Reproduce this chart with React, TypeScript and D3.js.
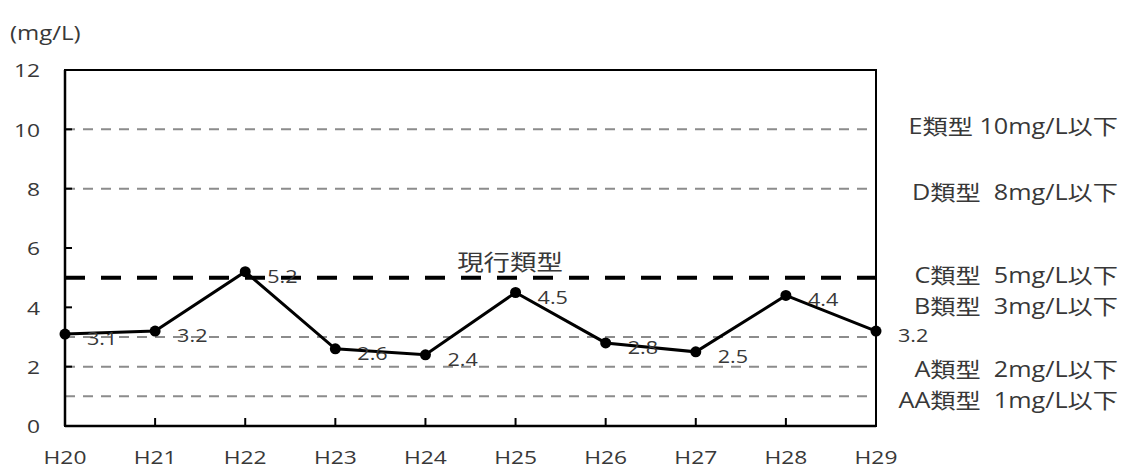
import React, { useEffect, useRef } from "react";
import * as d3 from "d3";

const years = ["H20", "H21", "H22", "H23", "H24", "H25", "H26", "H27", "H28", "H29"];
const values = [3.1, 3.2, 5.2, 2.6, 2.4, 4.5, 2.8, 2.5, 4.4, 3.2];
const yTicks = [0, 2, 4, 6, 8, 10, 12];
const grayLines = [1, 2, 3, 8, 10];
const currentLine = 5;
const currentLabel = "現行類型";
const classTexts = [
  "E類型 10mg/L以下",
  "D類型  8mg/L以下",
  "C類型  5mg/L以下",
  "B類型  3mg/L以下",
  "A類型  2mg/L以下",
  "AA類型  1mg/L以下",
];
const classValues = [10, 8, 5, 3, 2, 1];
const unitLabel = "(mg/L)";

const W = 1127;
const H = 470;
const LEFT = 65;
const RIGHT = 876;
const TOP = 70;
const BOTTOM = 426;
const SX = 1.2;
const FONT = "'Open Sans', 'Noto Sans CJK JP', sans-serif";
const TXT = "#383838";
// vertical nudges (px) for the right-hand class labels
const classNudge = [-3, 3, -3, -31, 2, 4];

export default function App() {
  const ref = useRef<SVGSVGElement>(null);

  useEffect(() => {
    const svg = d3.select(ref.current);
    svg.selectAll("*").remove();

    const x = d3.scalePoint<string>().domain(years).range([LEFT, RIGHT]);
    const y = d3.scaleLinear().domain([0, 12]).range([BOTTOM, TOP]);

    const txt = (
      g: d3.Selection<any, any, any, any>,
      tx: number,
      ty: number,
      s: string,
      size: number,
      anchor: string,
      baseline = "auto"
    ) =>
      g
        .append("text")
        .attr("transform", `translate(${tx},${ty}) scale(${SX},1)`)
        .attr("text-anchor", anchor)
        .attr("dominant-baseline", baseline)
        .attr("font-family", FONT)
        .attr("font-size", size)
        .attr("fill", TXT)
        .style("white-space", "pre")
        .text(s);

    const root = svg.append("g");

    root
      .selectAll("line.gray")
      .data(grayLines)
      .join("line")
      .attr("x1", LEFT)
      .attr("x2", RIGHT)
      .attr("y1", (d) => y(d))
      .attr("y2", (d) => y(d))
      .attr("stroke", "#8c8c8c")
      .attr("stroke-width", 2)
      .attr("stroke-dasharray", "10,8");

    root
      .append("line")
      .attr("x1", LEFT)
      .attr("x2", RIGHT)
      .attr("y1", y(currentLine))
      .attr("y2", y(currentLine))
      .attr("stroke", "#000")
      .attr("stroke-width", 4)
      .attr("stroke-dasharray", "20,16");

    root
      .append("rect")
      .attr("x", LEFT)
      .attr("y", TOP)
      .attr("width", RIGHT - LEFT)
      .attr("height", BOTTOM - TOP)
      .attr("fill", "none")
      .attr("stroke", "#000")
      .attr("stroke-width", 2);
    root
      .append("line")
      .attr("x1", LEFT)
      .attr("x2", RIGHT)
      .attr("y1", BOTTOM)
      .attr("y2", BOTTOM)
      .attr("stroke", "#000")
      .attr("stroke-width", 2.5);
    root
      .append("line")
      .attr("x1", LEFT)
      .attr("x2", LEFT)
      .attr("y1", TOP)
      .attr("y2", BOTTOM)
      .attr("stroke", "#000")
      .attr("stroke-width", 2.5);

    root
      .selectAll("line.yt")
      .data(yTicks)
      .join("line")
      .attr("x1", LEFT)
      .attr("x2", LEFT + 7)
      .attr("y1", (d) => y(d))
      .attr("y2", (d) => y(d))
      .attr("stroke", "#000")
      .attr("stroke-width", 2);
    root
      .selectAll("line.xt")
      .data(years)
      .join("line")
      .attr("x1", (d) => x(d)!)
      .attr("x2", (d) => x(d)!)
      .attr("y1", BOTTOM)
      .attr("y2", BOTTOM - 8)
      .attr("stroke", "#000")
      .attr("stroke-width", 2);

    yTicks.forEach((t) => txt(root, 40, y(t), String(t), 19, "end", "central"));
    years.forEach((yr) => txt(root, x(yr)!, 464, yr, 19, "middle"));
    txt(root, 10, 40, unitLabel, 20, "start");

    const line = d3
      .line<number>()
      .x((_, i) => x(years[i])!)
      .y((d) => y(d));
    root
      .append("path")
      .attr("d", line(values)!)
      .attr("fill", "none")
      .attr("stroke", "#000")
      .attr("stroke-width", 3);
    root
      .selectAll("circle.pt")
      .data(values)
      .join("circle")
      .attr("cx", (_, i) => x(years[i])!)
      .attr("cy", (d) => y(d))
      .attr("r", 5.5)
      .attr("fill", "#000");

    values.forEach((v, i) => txt(root, x(years[i])! + 22, y(v) + 11, v.toFixed(1), 18, "start"));

    txt(root, 510, y(currentLine) - 16, currentLabel, 22, "middle", "central");

    classTexts.forEach((s, i) =>
      txt(root, 1118, y(classValues[i]) + classNudge[i], s, 21, "end", "central")
    );
  }, []);

  return (
    <svg
      ref={ref}
      width={W}
      height={H}
      style={{ position: "fixed", left: 0, top: 0, background: "#fff" }}
    />
  );
}
